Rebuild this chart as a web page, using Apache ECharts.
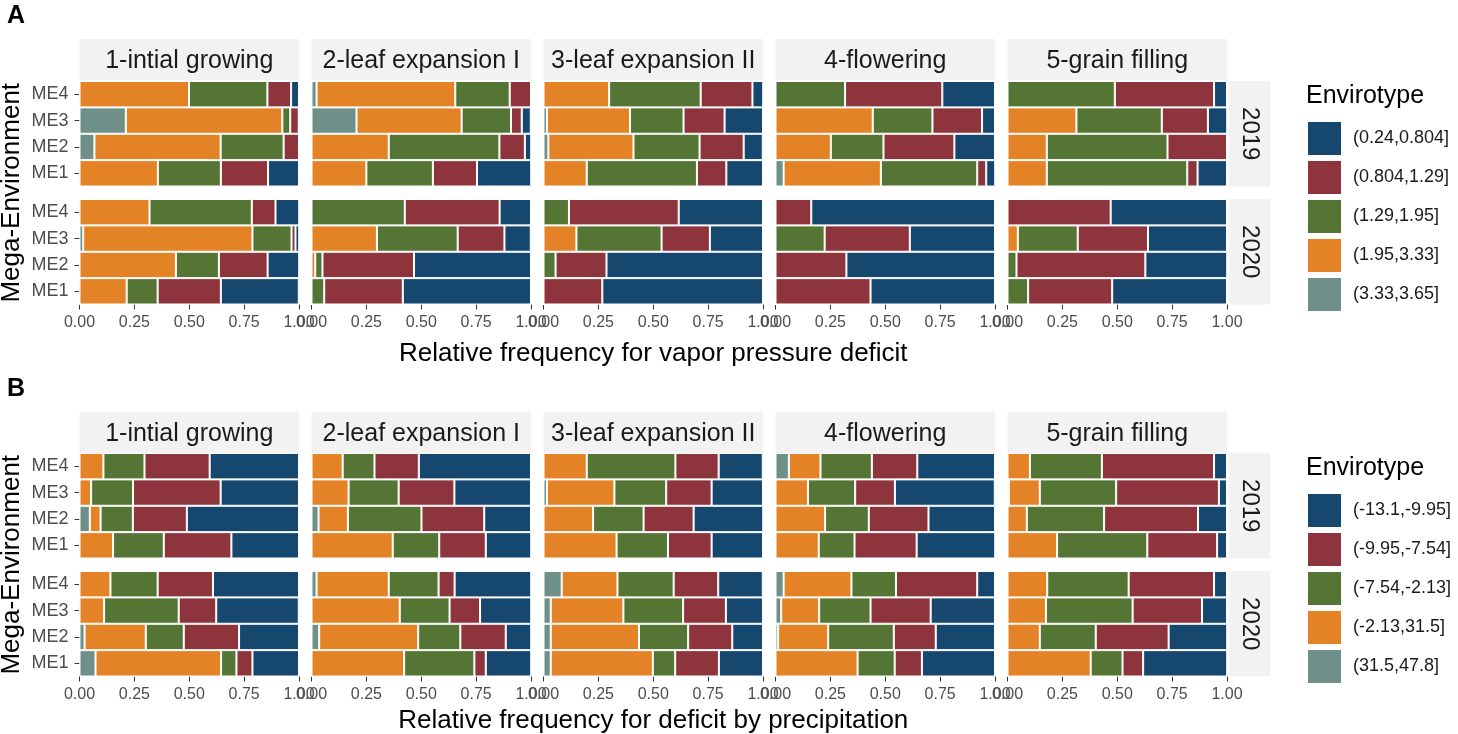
<!DOCTYPE html>
<html>
<head>
<meta charset="utf-8">
<script src="https://cdn.jsdelivr.net/npm/echarts@6/dist/echarts.min.js"></script>
<style>html,body{margin:0;padding:0;background:#fff;}#c{width:1458px;height:734px;}</style>
</head>
<body>
<div id="c"></div>
<script>
const phases = ['1-intial growing', '2-leaf expansion I', '3-leaf expansion II', '4-flowering', '5-grain filling'];
const envs = ['ME1', 'ME2', 'ME3', 'ME4'];
const years = ['2019', '2020'];
const xTicks = [0, 0.25, 0.5, 0.75, 1];
const vpdLevels = ['(0.24,0.804]', '(0.804,1.29]', '(1.29,1.95]', '(1.95,3.33]', '(3.33,3.65]'];
const defLevels = ['(-13.1,-9.95]', '(-9.95,-7.54]', '(-7.54,-2.13]', '(-2.13,31.5]', '(31.5,47.8]'];
const levelColors = ['#15476F', '#8E343D', '#557535', '#E48226', '#6E9088'];
const titlesX = ['Relative frequency for vapor pressure deficit', 'Relative frequency for deficit by precipitation'];

// each phase: rows ME1..ME4, values in level order [lvl1, lvl2, lvl3, lvl4, lvl5]
const vpd2019 = [
  [[0.141,0.215,0.287,0.357,0],[0,0.070,0.287,0.575,0.068],[0,0.039,0.036,0.713,0.211],[0.036,0.108,0.357,0.499,0]],
  [[0.247,0.201,0.303,0.250,0],[0.029,0.116,0.504,0.352,0],[0.041,0.049,0.225,0.479,0.205],[0,0.097,0.248,0.632,0.023]],
  [[0.167,0.134,0.502,0.197,0],[0.087,0.201,0.301,0.388,0.022],[0.175,0.187,0.244,0.378,0.016],[0.049,0.236,0.417,0.299,0]],
  [[0.041,0.041,0.439,0.443,0.037],[0.185,0.323,0.240,0.252,0],[0.059,0.226,0.272,0.443,0],[0.240,0.443,0.317,0,0]],
  [[0.134,0.047,0.640,0.179,0],[0,0.271,0.550,0.179,0],[0.088,0.210,0.389,0.314,0],[0.059,0.452,0.489,0,0]]
];
const vpd2020 = [
  [[0.355,0.288,0.141,0.215,0],[0.144,0.222,0.196,0.439,0],[0.017,0.018,0.178,0.771,0.017],[0.108,0.108,0.466,0.319,0]],
  [[0.584,0.358,0.058,0,0],[0.533,0.417,0.033,0.017,0],[0.120,0.213,0.368,0.298,0],[0.143,0.432,0.425,0,0]],
  [[0.732,0.268,0,0,0],[0.713,0.232,0.055,0,0],[0.242,0.220,0.388,0.150,0],[0.384,0.500,0.116,0,0]],
  [[0.567,0.433,0,0,0],[0.677,0.323,0,0,0],[0.388,0.388,0.224,0,0],[0.837,0.163,0,0,0]],
  [[0.523,0.383,0.094,0,0],[0.373,0.587,0.041,0,0],[0.360,0.320,0.273,0.047,0],[0.530,0.470,0,0,0]]
];
const def2019 = [
  [[0.308,0.308,0.231,0.153,0],[0.511,0.246,0.147,0.049,0.047],[0.357,0.399,0.191,0.053,0],[0.407,0.297,0.187,0.109,0]],
  [[0.207,0.212,0.212,0.370,0],[0.213,0.286,0.335,0.134,0.032],[0.349,0.254,0.228,0.169,0],[0.511,0.202,0.145,0.142,0]],
  [[0.234,0.199,0.234,0.333,0],[0.317,0.228,0.230,0.226,0],[0.234,0.207,0.236,0.307,0.016],[0.201,0.197,0.404,0.197,0]],
  [[0.358,0.283,0.163,0.197,0],[0.303,0.272,0.199,0.226,0],[0.455,0.181,0.215,0.148,0],[0.354,0.207,0.234,0.144,0.061]],
  [[0.045,0.318,0.411,0.226,0],[0.132,0.428,0.352,0.088,0],[0.037,0.468,0.348,0.141,0.006],[0.059,0.511,0.328,0.102,0]]
];
const def2020 = [
  [[0.212,0.073,0.070,0.572,0.073],[0.273,0.252,0.173,0.279,0.023],[0.376,0.171,0.340,0.112,0],[0.392,0.252,0.215,0.141,0]],
  [[0.207,0.052,0.320,0.422,0],[0.116,0.207,0.192,0.451,0.035],[0.233,0.139,0.227,0.402,0],[0.349,0.073,0.227,0.329,0.023]],
  [[0.201,0.199,0.102,0.465,0.033],[0.140,0.201,0.224,0.402,0.033],[0.169,0.195,0.272,0.331,0.033],[0.203,0.203,0.256,0.254,0.083]],
  [[0.333,0.124,0.169,0.374,0],[0.270,0.191,0.299,0.228,0.012],[0.293,0.274,0.234,0.173,0.026],[0.081,0.370,0.203,0.309,0.037]],
  [[0.383,0.094,0.145,0.379,0],[0.267,0.332,0.255,0.147,0],[0.114,0.316,0.395,0.175,0],[0.059,0.389,0.371,0.181,0]]
];

const FONT = '"Liberation Sans", Arial, sans-serif';
const panels = [
  { letter: 'A', levels: vpdLevels, data: [vpd2019, vpd2020], rowTop: [81, 199], stripTop: 39, letterY: 16, xTitleY: 354 },
  { letter: 'B', levels: defLevels, data: [def2019, def2020], rowTop: [453, 571], stripTop: 412, letterY: 389, xTitleY: 721 }
];
const facetLeft0 = 79.5, facetStep = 232, facetW = 219.5, rowH = 105.5;

const grids = [], xAxes = [], yAxes = [], series = [], graphics = [], legends = [];
let g = 0;
panels.forEach((P, pi) => {
  years.forEach((yr, yi) => {
    phases.forEach((ph, fi) => {
      const left = facetLeft0 + fi * facetStep;
      const top = P.rowTop[yi];
      grids.push({ left: left, top: top, width: facetW, height: rowH });
      xAxes.push({
        gridIndex: g, type: 'value', min: 0, max: 1, interval: 0.25,
        axisLine: { show: false },
        axisTick: { show: yi === 1, length: 5, lineStyle: { color: '#333', width: 1 } },
        axisLabel: { show: yi === 1, fontSize: 16, color: '#4D4D4D', fontFamily: FONT, margin: 10,
          showMinLabel: true, showMaxLabel: true, hideOverlap: false,
          formatter: v => v.toFixed(2) },
        splitLine: { show: false }
      });
      yAxes.push({
        gridIndex: g, type: 'category', data: envs,
        axisLine: { show: false },
        axisTick: { show: fi === 0, alignWithLabel: true, length: 5, lineStyle: { color: '#333', width: 1 } },
        axisLabel: { show: fi === 0, fontSize: 18, color: '#4D4D4D', fontFamily: FONT, margin: 11, interval: 0 },
        splitLine: { show: false }
      });
      const rows = P.data[yi][fi];
      [4, 3, 2, 1, 0].forEach(L => {
        series.push({
          type: 'bar', name: P.levels[L], xAxisIndex: g, yAxisIndex: g, stack: 's' + g,
          barCategoryGap: '0%',
          data: rows.map(r => r[L]),
          itemStyle: { color: levelColors[L], borderColor: '#ffffff', borderWidth: 1 },
          emphasis: { disabled: true }, animation: false
        });
      });
      g++;
    });
    // right strip (year)
    const top = P.rowTop[yi];
    graphics.push({ type: 'rect', shape: { x: 1229, y: top, width: 41, height: rowH }, style: { fill: '#F2F2F2' }, silent: true });
    graphics.push({ type: 'text', x: 1249.5, y: top + rowH / 2, rotation: -Math.PI / 2,
      style: { text: yr, fontSize: 24, fill: '#1A1A1A', fontFamily: FONT, align: 'center', verticalAlign: 'middle' }, silent: true });
  });
  // top strips
  phases.forEach((ph, fi) => {
    const left = facetLeft0 + fi * facetStep;
    graphics.push({ type: 'rect', shape: { x: left, y: P.stripTop, width: facetW, height: 41 }, style: { fill: '#F2F2F2' }, silent: true });
    graphics.push({ type: 'text', x: left + facetW / 2, y: P.stripTop + 22,
      style: { text: ph, fontSize: 25, fill: '#1A1A1A', fontFamily: FONT, align: 'center', verticalAlign: 'middle' }, silent: true });
  });
  // panel letter
  graphics.push({ type: 'text', x: 7, y: P.letterY,
    style: { text: P.letter, fontSize: 25, fontWeight: 'bold', fill: '#000', fontFamily: FONT, align: 'left', verticalAlign: 'middle' }, silent: true });
  // y title
  const yMid = (P.rowTop[0] + P.rowTop[1] + rowH) / 2;
  graphics.push({ type: 'text', x: 12, y: yMid, rotation: Math.PI / 2,
    style: { text: 'Mega-Environment', fontSize: 26, fill: '#000', fontFamily: FONT, align: 'center', verticalAlign: 'middle' }, silent: true });
  // x title
  graphics.push({ type: 'text', x: (facetLeft0 + 4 * facetStep + facetW + facetLeft0) / 2, y: P.xTitleY,
    style: { text: titlesX[pi], fontSize: 26, fill: '#000', fontFamily: FONT, align: 'center', verticalAlign: 'middle' }, silent: true });
  // legend title
  graphics.push({ type: 'text', x: 1306, y: P.rowTop[0] + 15,
    style: { text: 'Envirotype', fontSize: 25, fill: '#000', fontFamily: FONT, align: 'left', verticalAlign: 'middle' }, silent: true });
  legends.push({
    orient: 'vertical', left: 1306, top: P.rowTop[0] + 39,
    data: P.levels.map(n => ({ name: n, icon: 'rect' })),
    itemWidth: 35, itemHeight: 35, itemGap: 2,
    textStyle: { fontSize: 18, color: '#1A1A1A', fontFamily: FONT, padding: [0, 0, 0, 6] },
    selectedMode: false, padding: 0
  });
});

const chart = echarts.init(document.getElementById('c'), null, { renderer: 'canvas' });
chart.setOption({
  animation: false,
  backgroundColor: '#ffffff',
  grid: grids, xAxis: xAxes, yAxis: yAxes, series: series,
  legend: legends,
  graphic: graphics
});
</script>
</body>
</html>
